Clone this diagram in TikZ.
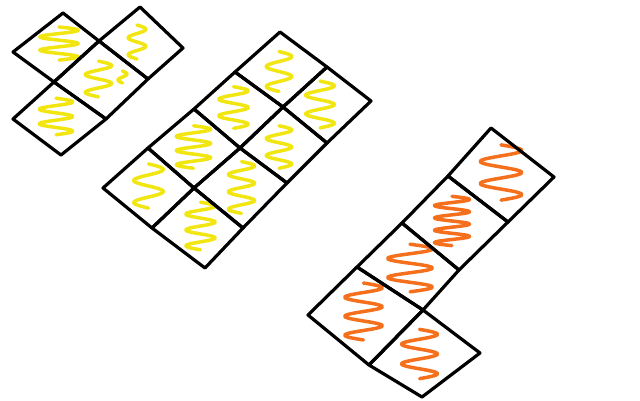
\documentclass[tikz,border=0pt]{standalone}
\usepackage{xcolor}

\definecolor{hiyellow}{RGB}{242,230,18}
\definecolor{hiorange}{RGB}{245,112,28}

\tikzset{
  cellline/.style={draw=black, line width=3.2pt, line join=round, line cap=round},
  scribY/.style={draw=hiyellow, line width=3.5pt, line cap=round, line join=round},
  scribO/.style={draw=hiorange, line width=3.5pt, line cap=round, line join=round}
}

% scribble: style, left, top, width, height, strokes
\newcommand{\scrib}[6]{%
  \draw[#1] plot[smooth, domain=0:1, samples=61]
    ({#2+0.5*#4+0.4*#4*sin(#6*180*\x)}, {#3+0.5*#5+0.85*#5*(\x-0.5)});}

\begin{document}
\begin{tikzpicture}[x=1pt, y=-1pt]
    \useasboundingbox (0,0) rectangle (640,400);

    % small group, top left
    \scrib{scribY}{35}{24}{48}{39}{5}
    \scrib{scribY}{126}{22}{22}{40}{4}
    \scrib{scribY}{82}{58}{33}{42}{4}
    \scrib{scribY}{117}{70}{11}{14}{2}
    \scrib{scribY}{35}{95}{42}{43}{5}
    \draw[cellline] (13,52) -- (63,13) -- (99,41) -- (54,82) -- cycle;
    \draw[cellline] (99,41) -- (140,7) -- (183,48) -- (148,79) -- cycle;
    \draw[cellline] (54,82) -- (99,41) -- (148,79) -- (106,119) -- cycle;
    \draw[cellline] (13,119) -- (54,82) -- (106,119) -- (61,155) -- cycle;

    % middle group
    \scrib{scribY}{263}{48}{32}{47}{4}
    \scrib{scribY}{302}{77}{36}{55}{5}
    \scrib{scribY}{215}{83}{37}{49}{5}
    \scrib{scribY}{263}{122}{32}{50}{5}
    \scrib{scribY}{172}{122}{43}{50}{6}
    \scrib{scribY}{225}{157}{33}{61}{6}
    \scrib{scribY}{130}{160}{37}{52}{4}
    \scrib{scribY}{182}{198}{37}{56}{6}
    \draw[cellline] (103,188) -- (148,148) -- (194,188) -- (152,228) -- cycle;
    \draw[cellline] (148,148) -- (194,109) -- (240,148) -- (194,188) -- cycle;
    \draw[cellline] (194,109) -- (235,72) -- (283,107) -- (240,148) -- cycle;
    \draw[cellline] (235,72) -- (280,32) -- (327,67) -- (283,107) -- cycle;
    \draw[cellline] (152,228) -- (194,188) -- (243,228) -- (205,268) -- cycle;
    \draw[cellline] (194,188) -- (240,148) -- (287,183) -- (243,228) -- cycle;
    \draw[cellline] (240,148) -- (283,107) -- (327,143) -- (287,183) -- cycle;
    \draw[cellline] (283,107) -- (327,67) -- (371,101) -- (327,143) -- cycle;

    % orange group, bottom right
    \scrib{scribO}{475}{140}{52}{65}{5}
    \scrib{scribO}{430}{192}{44}{58}{8}
    \scrib{scribO}{382}{240}{56}{56}{5}
    \scrib{scribO}{340}{278}{47}{67}{6}
    \scrib{scribO}{397}{325}{45}{58}{5}
    \draw[cellline] (308,315) -- (357,267) -- (423,310) -- (369,365) -- cycle;
    \draw[cellline] (357,267) -- (402,223) -- (459,270) -- (423,310) -- cycle;
    \draw[cellline] (402,223) -- (448,176) -- (508,222) -- (459,270) -- cycle;
    \draw[cellline] (448,176) -- (491,128) -- (554,177) -- (508,222) -- cycle;
    \draw[cellline] (369,365) -- (423,310) -- (480,353) -- (422,397) -- cycle;
\end{tikzpicture}
\end{document}
